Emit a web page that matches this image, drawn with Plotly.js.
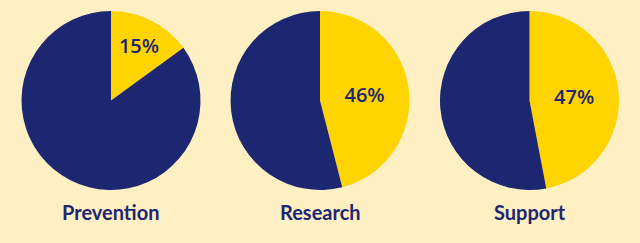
<!DOCTYPE html>
<html>
<head>
<meta charset="utf-8">
<script src="https://cdn.plot.ly/plotly-3.0.1.min.js"></script>
<style>
html,body{margin:0;padding:0;background:#FEF0C3;}
#chart{width:640px;height:243px;}
</style>
</head>
<body>
<div id="chart"></div>
<script>
// Data
const categories = ["Prevention", "Research", "Support"];
const sharePercent = [15, 46, 47];
const sliceLabels = ["Share", "Other"];

// Styles
const NAVY = "#1D2671";
const YELLOW = "#FFD400";
const BG = "#FEF0C3";

const xDomains = [[0.0336, 0.3133], [0.3602, 0.6398], [0.6875, 0.9672]];
const yDomain = [0.218, 0.955];

const traces = categories.map((cat, i) => ({
  type: "pie",
  name: cat,
  labels: sliceLabels,
  values: [sharePercent[i], 100 - sharePercent[i]],
  sort: false,
  direction: "clockwise",
  rotation: 0,
  domain: {x: xDomains[i], y: yDomain},
  marker: {colors: [YELLOW, NAVY], line: {width: 0}},
  texttemplate: [sharePercent[i] + "%", ""],
  textinfo: "text",
  textposition: "inside",
  insidetextorientation: "horizontal",
  insidetextfont: {family: "Open Sans, Lato, sans-serif", size: 20, color: NAVY, weight: 600},
  hoverinfo: "none",
  showlegend: false
}));

const annotations = categories.map((cat, i) => ({
  text: cat,
  xref: "paper", yref: "paper",
  x: (xDomains[i][0] + xDomains[i][1]) / 2,
  y: 0.1276,
  xanchor: "center", yanchor: "middle",
  showarrow: false,
  font: {family: "Lato, sans-serif", size: 20, color: NAVY, weight: "bold"}
}));

const layout = {
  width: 640, height: 243,
  margin: {l: 0, r: 0, t: 0, b: 0},
  paper_bgcolor: BG,
  plot_bgcolor: BG,
  showlegend: false,
  annotations: annotations
};

Plotly.newPlot("chart", traces, layout, {displayModeBar: false, staticPlot: true});
</script>
</body>
</html>
